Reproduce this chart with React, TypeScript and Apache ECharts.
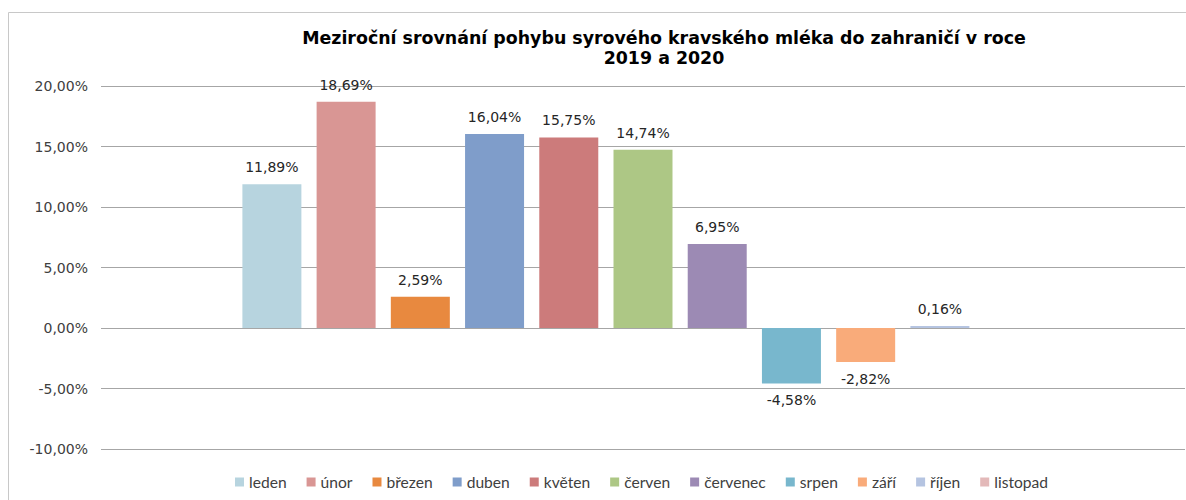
import React, { useEffect, useRef } from "react";
import * as echarts from "echarts";

const months = ["leden", "únor", "březen", "duben", "květen", "červen", "červenec", "srpen", "září", "říjen", "listopad"];
const values: (number | null)[] = [11.89, 18.69, 2.59, 16.04, 15.75, 14.74, 6.95, -4.58, -2.82, 0.16, null];
const colors = ["#b7d4df", "#d99694", "#e8893f", "#7f9dca", "#cc7b7b", "#adc785", "#9c8ab4", "#78b7cd", "#f9ab7a", "#b5c4e1", "#e3b9b9"];
const titleLines = ["Meziroční srovnání pohybu syrového kravského mléka do zahraničí v roce", "2019 a 2020"];
const yMin = -10;
const yMax = 20;
const yStep = 5;

const fmt = (v: number) => v.toFixed(2).replace(".", ",") + "%";

export default function App() {
  const ref = useRef<HTMLDivElement>(null);
  useEffect(() => {
    const chart = echarts.init(ref.current!, null, { renderer: "svg" });
    const font = "DejaVu Sans";
    chart.setOption({
      animation: false,
      backgroundColor: "#ffffff",
      graphic: [
        {
          type: "rect",
          shape: { x: 8.5, y: 12.5, width: 1300, height: 600 },
          style: { fill: "none", stroke: "#c8c8c8", lineWidth: 1 },
          silent: true,
          z: -1,
        },
        {
          type: "text",
          x: 664,
          y: 28,
          style: {
            text: titleLines.join("\n"),
            fontFamily: font,
            fontWeight: "bold",
            fontSize: 17.4,
            lineHeight: 20,
            fill: "#000000",
            align: "center",
            verticalAlign: "top",
          },
        },
      ],
      legend: {
        data: months,
        left: 230,
        top: 469,
        itemWidth: 9,
        itemHeight: 9,
        itemGap: 20,
        icon: "rect",
        textStyle: { fontFamily: "Lato", fontSize: 15.6, color: "#404040" },
      },
      grid: { left: 101, right: 1, top: 86, bottom: 51 },
      xAxis: {
        type: "category",
        data: [""],
        axisLine: { show: false },
        axisTick: { show: false },
        axisLabel: { show: false },
      },
      yAxis: {
        type: "value",
        min: yMin,
        max: yMax,
        interval: yStep,
        axisLine: { show: false },
        axisTick: { show: false },
        axisLabel: {
          formatter: (v: number) => fmt(v),
          fontFamily: font,
          fontSize: 14,
          color: "#404040",
          margin: 13,
        },
        splitLine: { lineStyle: { color: "#a6a6a6", width: 1 } },
      },
      series: months.map((m, i) => ({
        name: m,
        type: "bar",
        data: [values[i]],
        barWidth: 59,
        barGap: "25.8%",
        itemStyle: { color: colors[i] },
        label: {
          show: values[i] !== null,
          position: (values[i] ?? 0) < 0 ? "bottom" : "top",
          distance: 10,
          formatter: (p: any) => fmt(p.value),
          fontFamily: font,
          fontSize: 14,
          color: "#262626",
        },
      })),
    });
    return () => chart.dispose();
  }, []);
  return <div ref={ref} style={{ position: "absolute", left: 0, top: 0, width: 1186, height: 500 }} />;
}
